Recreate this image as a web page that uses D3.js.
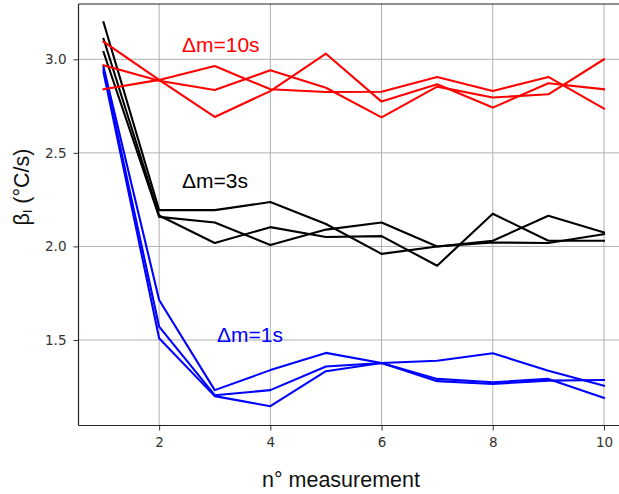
<!DOCTYPE html>
<html>
<head>
<meta charset="utf-8">
<script src="https://cdn.jsdelivr.net/npm/d3@7"></script>
<style>
  html, body { margin: 0; padding: 0; background: #fff; }
  svg { display: block; }
</style>
</head>
<body>
<div id="chart"></div>
<script>
// ---- data ----
const measurements = [1, 2, 3, 4, 5, 6, 7, 8, 9, 10];

const red10s_a = [3.094, 2.89, 2.692, 2.83, 3.03, 2.774, 2.867, 2.742, 2.872, 2.84];
const red10s_b = [2.84, 2.89, 2.964, 2.84, 2.825, 2.827, 2.906, 2.831, 2.906, 2.737];
const red10s_c = [2.968, 2.885, 2.836, 2.941, 2.848, 2.69, 2.854, 2.796, 2.813, 3.0];

const black3s_a = [3.198, 2.194, 2.194, 2.237, 2.12, 1.96, 2.0, 2.03, 2.164, 2.075];
const black3s_b = [3.11, 2.165, 2.018, 2.103, 2.05, 2.055, 1.897, 2.175, 2.03, 2.03];
const black3s_c = [3.039, 2.158, 2.128, 2.008, 2.09, 2.128, 2.0, 2.021, 2.018, 2.066];

const blue1s_a = [2.96, 1.714, 1.232, 1.339, 1.431, 1.377, 1.389, 1.429, 1.336, 1.256];
const blue1s_b = [2.945, 1.571, 1.205, 1.232, 1.358, 1.377, 1.292, 1.274, 1.292, 1.19];
const blue1s_c = [2.93, 1.509, 1.2, 1.146, 1.333, 1.377, 1.28, 1.265, 1.283, 1.286];

const xTicks = [2, 4, 6, 8, 10];
const yTicks = [1.5, 2.0, 2.5, 3.0];
const annotations = ["\u0394m=10s", "\u0394m=3s", "\u0394m=1s"];

// ---- layout ----
const W = 619, H = 494;
const mLeft = 78.5, mTop = 4, mBottom = 425.5, mRight = 629;

const svg = d3.select("#chart").append("svg")
  .attr("width", W).attr("height", H);

const x = d3.scaleLinear().domain([0.55, 10.45]).range([mLeft, mRight]);
const y = d3.scaleLinear().domain([1.043, 3.2956]).range([mBottom, mTop]);

// grid
const grid = svg.append("g");
grid.selectAll("line.gx").data(xTicks).join("line")
  .attr("class", "gx")
  .attr("x1", d => x(d)).attr("x2", d => x(d))
  .attr("y1", mTop).attr("y2", mBottom)
  .attr("stroke", "#b0b0b0").attr("stroke-width", 1);
grid.selectAll("line.gy").data(yTicks).join("line")
  .attr("class", "gy")
  .attr("x1", mLeft).attr("x2", mRight)
  .attr("y1", d => y(d)).attr("y2", d => y(d))
  .attr("stroke", "#b0b0b0").attr("stroke-width", 1);

// series
const line = d3.line().x((d, i) => x(measurements[i])).y(d => y(d));
const groups = [
  { color: "#0000ff", data: [blue1s_a, blue1s_b, blue1s_c] },
  { color: "#000000", data: [black3s_a, black3s_b, black3s_c] },
  { color: "#ff0000", data: [red10s_a, red10s_b, red10s_c] }
];
groups.forEach(g => {
  svg.append("g").selectAll("path").data(g.data).join("path")
    .attr("d", d => line(d))
    .attr("fill", "none")
    .attr("stroke", g.color)
    .attr("stroke-width", 2.1)
    .attr("stroke-linejoin", "round")
    .attr("stroke-linecap", "square");
});

// axes
const xAxis = d3.axisBottom(x).tickValues(xTicks).tickFormat(d3.format("d"))
  .tickSize(5).tickPadding(7);
const yAxis = d3.axisLeft(y).tickValues(yTicks).tickFormat(d3.format(".1f"))
  .tickSize(5).tickPadding(7);

const gx = svg.append("g").attr("transform", `translate(0,${mBottom})`).call(xAxis);
const gy = svg.append("g").attr("transform", `translate(${mLeft},0)`).call(yAxis);
[gx, gy].forEach(g => {
  g.select(".domain").remove();
  g.selectAll(".tick line").attr("stroke", "#333").attr("stroke-width", 1);
  g.selectAll(".tick text").attr("fill", "#333")
    .style("font-family", "DejaVu Sans").style("font-size", "13.5px");
});

// spines
svg.append("line").attr("x1", mLeft).attr("x2", mLeft).attr("y1", mTop).attr("y2", mBottom)
  .attr("stroke", "#222").attr("stroke-width", 1.2);
svg.append("line").attr("x1", mLeft).attr("x2", W).attr("y1", mTop).attr("y2", mTop)
  .attr("stroke", "#222").attr("stroke-width", 1.2);
svg.append("line").attr("x1", mLeft).attr("x2", W).attr("y1", mBottom).attr("y2", mBottom)
  .attr("stroke", "#222").attr("stroke-width", 1.2);

// annotations
const font = "Liberation Sans, Arial, sans-serif";
svg.append("text").attr("x", x(2.41)).attr("y", y(3.039)).text(annotations[0])
  .attr("fill", "#ff0000").style("font-family", font).style("font-size", "21px");
svg.append("text").attr("x", x(2.41)).attr("y", y(2.312)).text(annotations[1])
  .attr("fill", "#000000").style("font-family", font).style("font-size", "21px");
svg.append("text").attr("x", x(3.04)).attr("y", y(1.49)).text(annotations[2])
  .attr("fill", "#0000ff").style("font-family", font).style("font-size", "21px");

// axis labels
svg.append("text").attr("x", 341).attr("y", 487).attr("text-anchor", "middle")
  .style("font-family", font).style("font-size", "21.5px").attr("fill", "#111")
  .text("n\u00b0 measurement");

const yl = svg.append("text").attr("transform", "translate(29,187) rotate(-90)")
  .attr("text-anchor", "middle")
  .style("font-family", font).style("font-size", "21.5px").attr("fill", "#111");
yl.append("tspan").text("\u03b2");
yl.append("tspan").attr("font-size", "12px").attr("dy", 3).text("I");
yl.append("tspan").attr("dy", -3).text(" (\u00b0C/s)");
</script>
</body>
</html>
